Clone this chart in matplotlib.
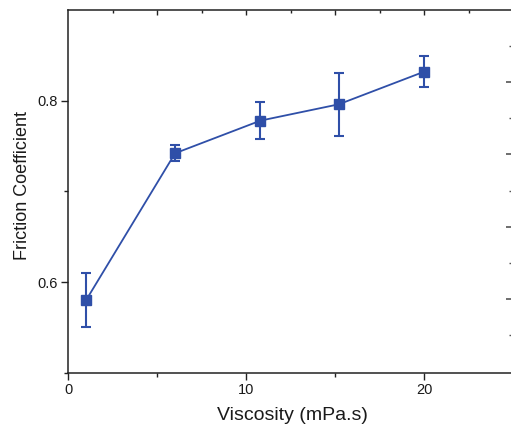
import matplotlib
matplotlib.use("Agg")
import matplotlib.pyplot as plt
from matplotlib.ticker import NullFormatter

# data
viscosity = [1.0, 6.0, 10.8, 15.2, 20.0]
friction = [0.580, 0.742, 0.778, 0.796, 0.832]
friction_err = [0.030, 0.009, 0.020, 0.035, 0.017]

x_major = [0, 10, 20]
x_minor = [5, 15]
y_major = [0.6, 0.8]
y_minor = [0.5, 0.7]

# ticks of the neighbouring (cropped) panel
right_major = [1, 2, 3, 4]
right_minor = [0.5, 1.5, 2.5, 3.5, 4.5]

plt.rcParams['font.family'] = ['Liberation Sans', 'DejaVu Sans']
color = '#2f4fa8'
spine_c = '#222222'

fig = plt.figure(figsize=(5.11, 4.30), dpi=100)
W, H = 511, 430
x0, x1 = 68.3, 531.0
y_bot, y_top = 372.7, 10.0
ax = fig.add_axes([x0 / W, 1 - y_bot / H, (x1 - x0) / W, (y_bot - y_top) / H])

ax.errorbar(viscosity, friction, yerr=friction_err, color=color, lw=1.3,
            marker='s', markersize=7.5, markerfacecolor=color,
            markeredgecolor=color, ecolor=color, elinewidth=1.5,
            capsize=3.6, capthick=1.5)

ax.set_xlim(0, 26)
ax.set_ylim(0.5, 0.9)
ax.set_xticks(x_major)
ax.set_xticks(x_minor, minor=True)
ax.set_yticks(y_major)
ax.set_yticks(y_minor, minor=True)
ax.set_xticklabels([str(v) for v in x_major])
ax.set_yticklabels([f"{v:.1f}" for v in y_major])

for side in ['left', 'bottom', 'top']:
    ax.spines[side].set_linewidth(1.1)
    ax.spines[side].set_color(spine_c)
ax.spines['right'].set_visible(False)

ax.tick_params(which='major', direction='out', length=5, width=1.0,
               colors=spine_c, labelsize=10.5, labelcolor='#1a1a1a', pad=2.5)
ax.tick_params(which='minor', direction='out', length=3, width=1.0, colors=spine_c)

ax.set_xlabel('Viscosity (mPa.s)', fontsize=14, labelpad=7, color='#1a1a1a')
ax.set_ylabel('Friction Coefficient', fontsize=13, labelpad=5, color='#1a1a1a')
ax.xaxis.label.set_x(0.4835)
ax.yaxis.label.set_y(0.517)

# top axis inward ticks
sec = ax.secondary_xaxis('top')
sec.set_xticks([5, 10, 15, 20, 25])
sec.set_xticks([2.5, 7.5, 12.5, 17.5, 22.5], minor=True)
sec.xaxis.set_major_formatter(NullFormatter())
sec.tick_params(which='major', direction='in', length=3.5, width=1.0, colors=spine_c)
sec.tick_params(which='minor', direction='in', length=2.5, width=1.0, colors=spine_c)
sec.spines['top'].set_visible(False)

# neighbouring panel ticks at the right edge
ax2 = fig.add_axes([512 / W, 0, 0.3, 1])
ax2.set_ylim(1 - (H - 299) / 72.33, 1 + 299 / 72.33)
ax2.set_yticks(right_major)
ax2.set_yticks(right_minor, minor=True)
ax2.yaxis.set_major_formatter(NullFormatter())
ax2.set_xticks([])
for s in ax2.spines.values():
    s.set_visible(False)
ax2.patch.set_visible(False)
ax2.tick_params(which='major', direction='out', length=4, width=1.2, colors='#555555')
ax2.tick_params(which='minor', direction='out', length=2, width=1.0, colors='#555555')

fig.savefig('out.png', dpi=100)
